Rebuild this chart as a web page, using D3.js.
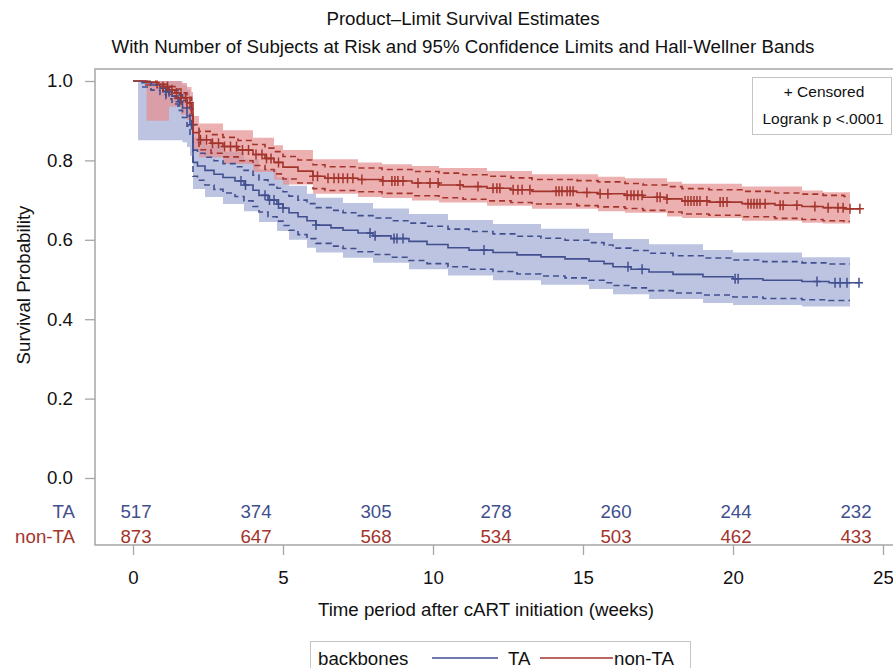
<!DOCTYPE html>
<html>
<head>
<meta charset="utf-8">
<script src="https://cdn.jsdelivr.net/npm/d3@7"></script>
<style>
  body { margin: 0; background: #fff; }
  svg { display: block; }
  text { font-family: "Liberation Sans", Arial, sans-serif; }
</style>
</head>
<body>
<svg id="chart" width="893" height="668"></svg>
<script>
// ---- data -------------------------------------------------------------
const groupNames = ["TA", "non-TA"];
const xTickValues = [0, 5, 10, 15, 20, 25];
const yTickValues = [0, 0.2, 0.4, 0.6, 0.8, 1.0];
const riskTimes = [0, 4, 8, 12, 16, 20, 24];
const taAtRisk = [517, 374, 305, 278, 260, 244, 232];
const nonTaAtRisk = [873, 647, 568, 534, 503, 462, 433];

// Kaplan-Meier steps with pointwise 95% limits, TA backbone
const taTime = [0,0.3,0.6,0.9,1.1,1.3,1.5,1.65,1.8,1.9, 2.0,2.15,2.4,2.7,3.0,3.4,3.7,4.0,4.2,4.5,
  4.8,5.0,5.2,5.5,5.8,6.1,6.6,7.0,7.5,8.0, 8.6,9.2,9.8,10.5,11.2,12.0,12.8,13.6,14.4,15.2,
  15.7,16.0,16.6,17.2,18.0,19.0,20.0,21.0,22.3,23.2];
const taSurv = [1.000,0.996,0.990,0.982,0.973,0.962,0.948,0.932,0.912,0.890, 0.795,0.786,0.775,0.765,0.757,0.748,0.738,0.725,0.712,0.700,
  0.690,0.680,0.668,0.658,0.648,0.637,0.630,0.624,0.617,0.610, 0.603,0.596,0.588,0.580,0.574,0.568,0.562,0.557,0.552,0.546,
  0.540,0.532,0.526,0.519,0.513,0.507,0.502,0.498,0.495,0.492];
const taLower = [null,0.985,0.977,0.966,0.955,0.942,0.926,0.908,0.886,0.862, 0.760,0.750,0.738,0.727,0.718,0.709,0.698,0.684,0.670,0.658,
  0.647,0.636,0.624,0.613,0.603,0.591,0.584,0.578,0.570,0.563, 0.556,0.548,0.540,0.532,0.526,0.520,0.514,0.509,0.504,0.498,
  0.492,0.485,0.479,0.472,0.466,0.461,0.456,0.452,0.449,0.447];
const taUpper = [null,0.999,0.996,0.991,0.985,0.977,0.965,0.951,0.933,0.913, 0.826,0.818,0.808,0.799,0.792,0.784,0.775,0.763,0.751,0.739,
  0.730,0.721,0.710,0.700,0.691,0.681,0.674,0.668,0.661,0.655, 0.648,0.642,0.634,0.627,0.621,0.615,0.609,0.604,0.599,0.593,
  0.587,0.579,0.573,0.566,0.560,0.554,0.549,0.545,0.542,0.539];
// Hall-Wellner band, TA
const taBandTime = [0.17,1.65,1.8,1.9,2.0,2.4,3.0,3.7,4.2,4.8, 5.2,5.8,6.1,7.0,8.0,9.2,10.5,12.0,13.6,15.2, 16.0,17.2,19.0,20.0,22.3,23.9];
const taBandLo = [0.851,0.846,0.834,0.812,0.728,0.708,0.690,0.672,0.645,0.622, 0.600,0.580,0.568,0.555,0.542,0.526,0.510,0.498,0.487,0.476, 0.463,0.451,0.441,0.436,0.432,0.432];
const taBandHi = [1.000,0.990,0.978,0.960,0.858,0.838,0.822,0.803,0.778,0.757, 0.736,0.716,0.706,0.693,0.679,0.665,0.650,0.640,0.628,0.617, 0.602,0.589,0.574,0.568,0.556,0.556];
const taCensored = [1.1,1.2,1.55,1.95,3.6,3.75,4.4,4.55,4.7,4.85,5.0,6.1,7.9,8.07,8.7,8.8,9.0,11.7,16.5,16.97,20.07,20.17,22.8,23.4,23.57,23.8,24.2];

// Kaplan-Meier steps with pointwise 95% limits, non-TA backbone
const nonTaTime = [0,0.4,0.8,1.0,1.2,1.4,1.6,1.8,1.95,2.0, 2.2,2.6,3.0,3.5,4.0,4.4,4.7,5.0,5.5,6.0,
  6.4,7.5,8.3,9.3,10.2,11.0,11.8,12.6,13.3,14.8, 15.5,16.4,17.0,17.8,18.3,19.2,20.3,21.4,22.3,23.0, 23.7];
const nonTaSurv = [1.000,0.997,0.992,0.986,0.978,0.970,0.958,0.945,0.930,0.870, 0.852,0.843,0.835,0.826,0.815,0.805,0.795,0.783,0.773,0.760,
  0.755,0.752,0.748,0.743,0.738,0.734,0.730,0.726,0.722,0.719, 0.716,0.712,0.707,0.703,0.698,0.695,0.691,0.687,0.684,0.681, 0.678];
const nonTaLower = [null,0.990,0.983,0.975,0.966,0.956,0.942,0.927,0.910,0.846, 0.827,0.818,0.809,0.799,0.787,0.777,0.766,0.753,0.743,0.729,
  0.724,0.721,0.717,0.711,0.706,0.702,0.698,0.694,0.690,0.686, 0.683,0.679,0.674,0.670,0.665,0.662,0.658,0.654,0.651,0.648, 0.646];
const nonTaUpper = [null,0.999,0.996,0.992,0.986,0.980,0.970,0.959,0.945,0.890, 0.873,0.865,0.858,0.850,0.840,0.831,0.822,0.810,0.801,0.789,
  0.784,0.781,0.777,0.772,0.768,0.764,0.760,0.756,0.752,0.749, 0.746,0.742,0.738,0.734,0.729,0.726,0.722,0.718,0.715,0.712, 0.709];
// Hall-Wellner band, non-TA
const nonTaBandTime = [0.45,1.2,1.6,1.8,1.95,2.0,2.2,3.0,4.0,4.7, 5.0,6.0,7.5,8.3,9.3,10.2,11.8,13.3,15.5,16.4, 17.8,18.3,20.3,22.3,23.0,23.9];
const nonTaBandLo = [0.900,0.935,0.915,0.902,0.885,0.825,0.808,0.791,0.771,0.751, 0.739,0.716,0.708,0.705,0.699,0.694,0.686,0.678,0.672,0.668, 0.659,0.655,0.648,0.643,0.641,0.641];
const nonTaBandHi = [1.000,1.000,0.995,0.985,0.972,0.912,0.893,0.876,0.857,0.838, 0.826,0.803,0.795,0.790,0.786,0.781,0.773,0.765,0.759,0.755, 0.746,0.741,0.734,0.724,0.720,0.720];
const nonTaCensored = [1.0,1.15,1.3,1.45,1.6,1.75,1.9,2.25,2.45,2.65,2.85,3.05,3.25,3.45,3.65,3.85,4.1,4.3,4.45,4.6,4.85,
  6.0,6.15,6.5,6.7,6.85,7.0,7.15,7.33,7.63,8.33,8.63,8.73,8.83,9.0,9.5,9.9,10.17,10.9,11.5,12.0,12.13,12.23,12.67,12.83,12.97,13.23,
  14.1,14.2,14.3,14.47,14.57,14.67,15.13,15.57,15.83,16.47,16.6,16.7,16.83,16.97,17.47,17.57,17.8,18.4,18.5,18.6,18.7,18.8,18.9,19.13,
  19.57,19.67,19.8,20.5,20.6,20.7,20.8,20.9,21.07,21.57,21.67,22.13,22.73,23.17,23.5,23.67,23.9,24.23];

// ---- styles ------------------------------------------------------------
const groups = [
  { name: groupNames[0], time: taTime, surv: taSurv, lo: taLower, hi: taUpper,
    bandTime: taBandTime, bandLo: taBandLo, bandHi: taBandHi, censored: taCensored, atRisk: taAtRisk,
    line: "#414f8f", band: "#bcc4e1", bandOpacity: 1 },
  { name: groupNames[1], time: nonTaTime, surv: nonTaSurv, lo: nonTaLower, hi: nonTaUpper,
    bandTime: nonTaBandTime, bandLo: nonTaBandLo, bandHi: nonTaBandHi, censored: nonTaCensored, atRisk: nonTaAtRisk,
    line: "#a3342c", band: "#e68f8f", bandOpacity: 0.7 }
];

const svg = d3.select("#chart");
const frame = { left: 95, top: 69, right: 905, bottom: 545 };
const x = d3.scaleLinear().domain([0, 25]).range([133, 883]);
const y = d3.scaleLinear().domain([0, 1]).range([478, 81]);
const FS = 18.7;

// titles
svg.append("text").attr("x", 463).attr("y", 25).attr("text-anchor", "middle")
  .attr("font-size", FS).attr("fill", "#111").text("Product\u2013Limit Survival Estimates");
svg.append("text").attr("x", 463).attr("y", 53).attr("text-anchor", "middle")
  .attr("font-size", FS).attr("fill", "#111")
  .text("With Number of Subjects at Risk and 95% Confidence Limits and Hall-Wellner Bands");

// Hall-Wellner bands
const band = d3.area().curve(d3.curveStepAfter)
  .x(d => x(d[0])).y0(d => y(d[1])).y1(d => y(d[2]));
groups.forEach(g => {
  const pts = g.bandTime.map((t, i) => [t, g.bandLo[i], g.bandHi[i]]);
  svg.append("path").attr("d", band(pts)).attr("fill", g.band).attr("fill-opacity", g.bandOpacity);
});

// pointwise confidence limits (dashed)
const step = d3.line().curve(d3.curveStepAfter).x(d => x(d[0])).y(d => y(d[1]));
groups.forEach(g => {
  const end = g.bandTime[g.bandTime.length - 1];
  ["lo", "hi"].forEach(k => {
    const pts = g.time.map((t, i) => [t, g[k][i]]).filter(d => d[1] != null);
    pts.push([end, pts[pts.length - 1][1]]);
    svg.append("path").attr("d", step(pts)).attr("fill", "none")
      .attr("stroke", g.line).attr("stroke-width", 1.6).attr("stroke-dasharray", "6,4");
  });
});

// survival curves and censoring marks
groups.forEach(g => {
  const survAt = t => g.surv[Math.max(0, d3.bisectRight(g.time, t) - 1)];
  const pts = g.time.map((t, i) => [t, g.surv[i]]);
  const last = d3.max(g.censored);
  pts.push([last, survAt(last)]);
  svg.append("path").attr("d", step(pts)).attr("fill", "none")
    .attr("stroke", g.line).attr("stroke-width", 1.6);
  svg.append("g").selectAll("path").data(g.censored).join("path")
    .attr("transform", t => `translate(${x(t)},${y(survAt(t))})`)
    .attr("d", "M-4,0H4M0,-5V5")
    .attr("stroke", g.line).attr("stroke-width", 1.5).attr("fill", "none");
});

// frame
svg.append("rect").attr("x", frame.left).attr("y", frame.top)
  .attr("width", frame.right - frame.left).attr("height", frame.bottom - frame.top)
  .attr("fill", "none").attr("stroke", "#a6a6a6").attr("stroke-width", 1.5);

// axes
const yAxis = svg.append("g").attr("transform", `translate(${frame.left},0)`)
  .call(d3.axisLeft(y).tickValues(yTickValues).tickFormat(d3.format(".1f")).tickSize(10).tickPadding(12));
const xAxis = svg.append("g").attr("transform", `translate(0,${frame.bottom})`)
  .call(d3.axisBottom(x).tickValues(xTickValues).tickSize(10).tickPadding(16));
[yAxis, xAxis].forEach(a => {
  a.select(".domain").remove();
  a.selectAll(".tick line").attr("stroke", "#a6a6a6").attr("stroke-width", 1.3);
  a.selectAll(".tick text").attr("font-size", FS).attr("fill", "#111")
    .attr("font-family", "Liberation Sans, Arial, sans-serif");
});

svg.append("text").attr("transform", "translate(30,285) rotate(-90)").attr("text-anchor", "middle")
  .attr("font-size", FS).attr("fill", "#111").text("Survival Probability");
svg.append("text").attr("x", 486).attr("y", 616).attr("text-anchor", "middle")
  .attr("font-size", FS).attr("fill", "#111").text("Time period after cART initiation (weeks)");

// numbers at risk
const rowY = [518, 543];
groups.forEach((g, gi) => {
  svg.append("text").attr("x", 75).attr("y", rowY[gi]).attr("text-anchor", "end")
    .attr("font-size", FS).attr("fill", g.line).text(g.name);
  svg.append("g").selectAll("text").data(riskTimes).join("text")
    .attr("x", t => x(t) + 3).attr("y", rowY[gi]).attr("text-anchor", "middle")
    .attr("font-size", FS).attr("fill", g.line)
    .text((t, i) => g.atRisk[i]);
});

// inset box
svg.append("rect").attr("x", 752.5).attr("y", 77.5).attr("width", 139).attr("height", 57)
  .attr("fill", "#fff").attr("stroke", "#c4c4c4").attr("stroke-width", 1);
svg.append("text").attr("x", 824).attr("y", 97).attr("text-anchor", "middle")
  .attr("font-size", 15.5).attr("fill", "#111").text("+ Censored");
svg.append("text").attr("x", 823).attr("y", 124).attr("text-anchor", "middle")
  .attr("font-size", 15.5).attr("fill", "#111").text("Logrank p <.0001");

// legend
const lg = svg.append("g");
lg.append("rect").attr("x", 310.5).attr("y", 641.5).attr("width", 380).attr("height", 40)
  .attr("fill", "none").attr("stroke", "#c4c4c4");
lg.append("text").attr("x", 318).attr("y", 665).attr("font-size", FS).attr("fill", "#111").text("backbones");
const legendItems = [
  { x1: 432, x2: 498, tx: 508 },
  { x1: 540, x2: 613, tx: 614 }
];
groups.forEach((g, gi) => {
  const it = legendItems[gi];
  lg.append("line").attr("x1", it.x1).attr("x2", it.x2).attr("y1", 658).attr("y2", 658)
    .attr("stroke", g.line).attr("stroke-width", 1.6);
  lg.append("text").attr("x", it.tx).attr("y", 665).attr("font-size", FS).attr("fill", "#111").text(g.name);
});
</script>
</body>
</html>
